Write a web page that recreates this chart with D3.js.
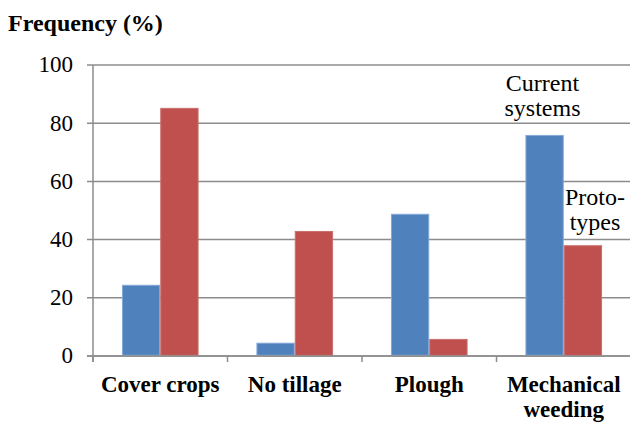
<!DOCTYPE html>
<html>
<head>
<meta charset="utf-8">
<script src="https://cdn.jsdelivr.net/npm/d3@7"></script>
<style>
  html, body { margin: 0; padding: 0; background: #fff; }
  svg { display: block; }
</style>
</head>
<body>
<svg id="chart" width="630" height="423"></svg>
<script>
const categories = ["Cover crops", "No tillage", "Plough", "Mechanical weeding"];
const categoryLines = [["Cover crops"], ["No tillage"], ["Plough"], ["Mechanical", "weeding"]];
const seriesNames = ["Current systems", "Prototypes"];
const currentSystems = [24.3, 4.4, 48.7, 75.8];
const prototypes = [85.1, 42.8, 5.7, 37.9];
const yTicks = [0, 20, 40, 60, 80, 100];
const colors = ["#4F81BD", "#C0504D"];
const strokes = ["#86A9D8", "#C9706D"];

const FONT = "Liberation Serif";
const FONT_STACK = "'Liberation Serif', 'Times New Roman', Times, serif";
const svg = d3.select("#chart");
const pLeft = 93, pRight = 631, pTop = 65, pBottom = 356;

function serif(sel) {
  return sel.attr("font-family", FONT).style("font-family", FONT_STACK, "important");
}

const x = d3.scaleBand().domain(categories).range([pLeft, pRight]).padding(0);
const xs = d3.scaleBand().domain(seriesNames).range([0, x.bandwidth()]).paddingInner(0).paddingOuter(0.755);
const y = d3.scaleLinear().domain([0, 100]).range([pBottom, pTop]);

// gridlines (with left tick stubs)
svg.append("g").selectAll("line").data(yTicks).join("line")
  .attr("x1", pLeft - 6).attr("x2", pRight)
  .attr("y1", d => y(d)).attr("y2", d => y(d))
  .attr("stroke", "#8C8C8C").attr("stroke-width", 1.5);

// y tick labels
serif(svg.append("g").selectAll("text").data(yTicks).join("text"))
  .attr("x", pLeft - 20)
  .attr("y", d => y(d))
  .attr("dy", "0.32em")
  .attr("text-anchor", "end")
  .attr("font-size", 23)
  .attr("fill", "#000")
  .text(d => y.tickFormat(6)(d));

// y axis line
svg.append("line").attr("x1", pLeft).attr("x2", pLeft).attr("y1", pTop).attr("y2", pBottom + 6)
  .attr("stroke", "#8C8C8C").attr("stroke-width", 1.5);

// x tick marks at category boundaries
svg.append("g").selectAll("line").data(categories).join("line")
  .attr("x1", d => x(d)).attr("x2", d => x(d))
  .attr("y1", pBottom).attr("y2", pBottom + 6)
  .attr("stroke", "#8C8C8C").attr("stroke-width", 1.5);

// bars
const data = categories.map((c, i) => ({ c, vals: [currentSystems[i], prototypes[i]] }));
const groups = svg.append("g").selectAll("g").data(data).join("g")
  .attr("transform", d => `translate(${x(d.c)},0)`);
groups.selectAll("rect").data(d => d.vals.map((v, j) => ({ s: seriesNames[j], v, j }))).join("rect")
  .attr("x", d => xs(d.s) + 0.5)
  .attr("width", xs.bandwidth() - 1)
  .attr("y", d => y(d.v))
  .attr("height", d => y(0) - y(d.v) - 0.75)
  .attr("fill", d => colors[d.j])
  .attr("stroke", d => strokes[d.j])
  .attr("stroke-width", 1);

// x axis baseline
svg.append("line").attr("x1", pLeft - 6).attr("x2", pRight).attr("y1", pBottom).attr("y2", pBottom)
  .attr("stroke", "#8C8C8C").attr("stroke-width", 1.5);

// x labels
const xl = serif(svg.append("g").selectAll("text").data(categories).join("text"))
  .attr("x", d => x(d) + x.bandwidth() / 2)
  .attr("y", 392)
  .attr("text-anchor", "middle")
  .attr("fill", "#000")
  .attr("font-size", 23).attr("font-weight", "bold");
xl.selectAll("tspan").data((d, i) => categoryLines[i]).join("tspan")
  .attr("x", function() { return d3.select(this.parentNode).attr("x"); })
  .attr("dy", (d, i) => i === 0 ? 0 : 25)
  .text(d => d);

// title
serif(svg.append("text")).attr("x", 8).attr("y", 31)
  .attr("font-size", 24).attr("font-weight", "bold").attr("fill", "#000")
  .text("Frequency (%)");

// series annotations
const ann = [
  { lines: ["Current", "systems"], cx: 542.5, y0: 90.5 },
  { lines: ["Proto-", "types"], cx: 595, y0: 205 }
];
serif(svg.append("g").selectAll("text").data(ann).join("text"))
  .attr("text-anchor", "middle").attr("font-size", 24).attr("fill", "#000")
  .each(function(d) {
    d3.select(this).selectAll("tspan").data(d.lines).join("tspan")
      .attr("x", d.cx).attr("y", (t, i) => d.y0 + i * 25).text(t => t);
  });
</script>
</body>
</html>
